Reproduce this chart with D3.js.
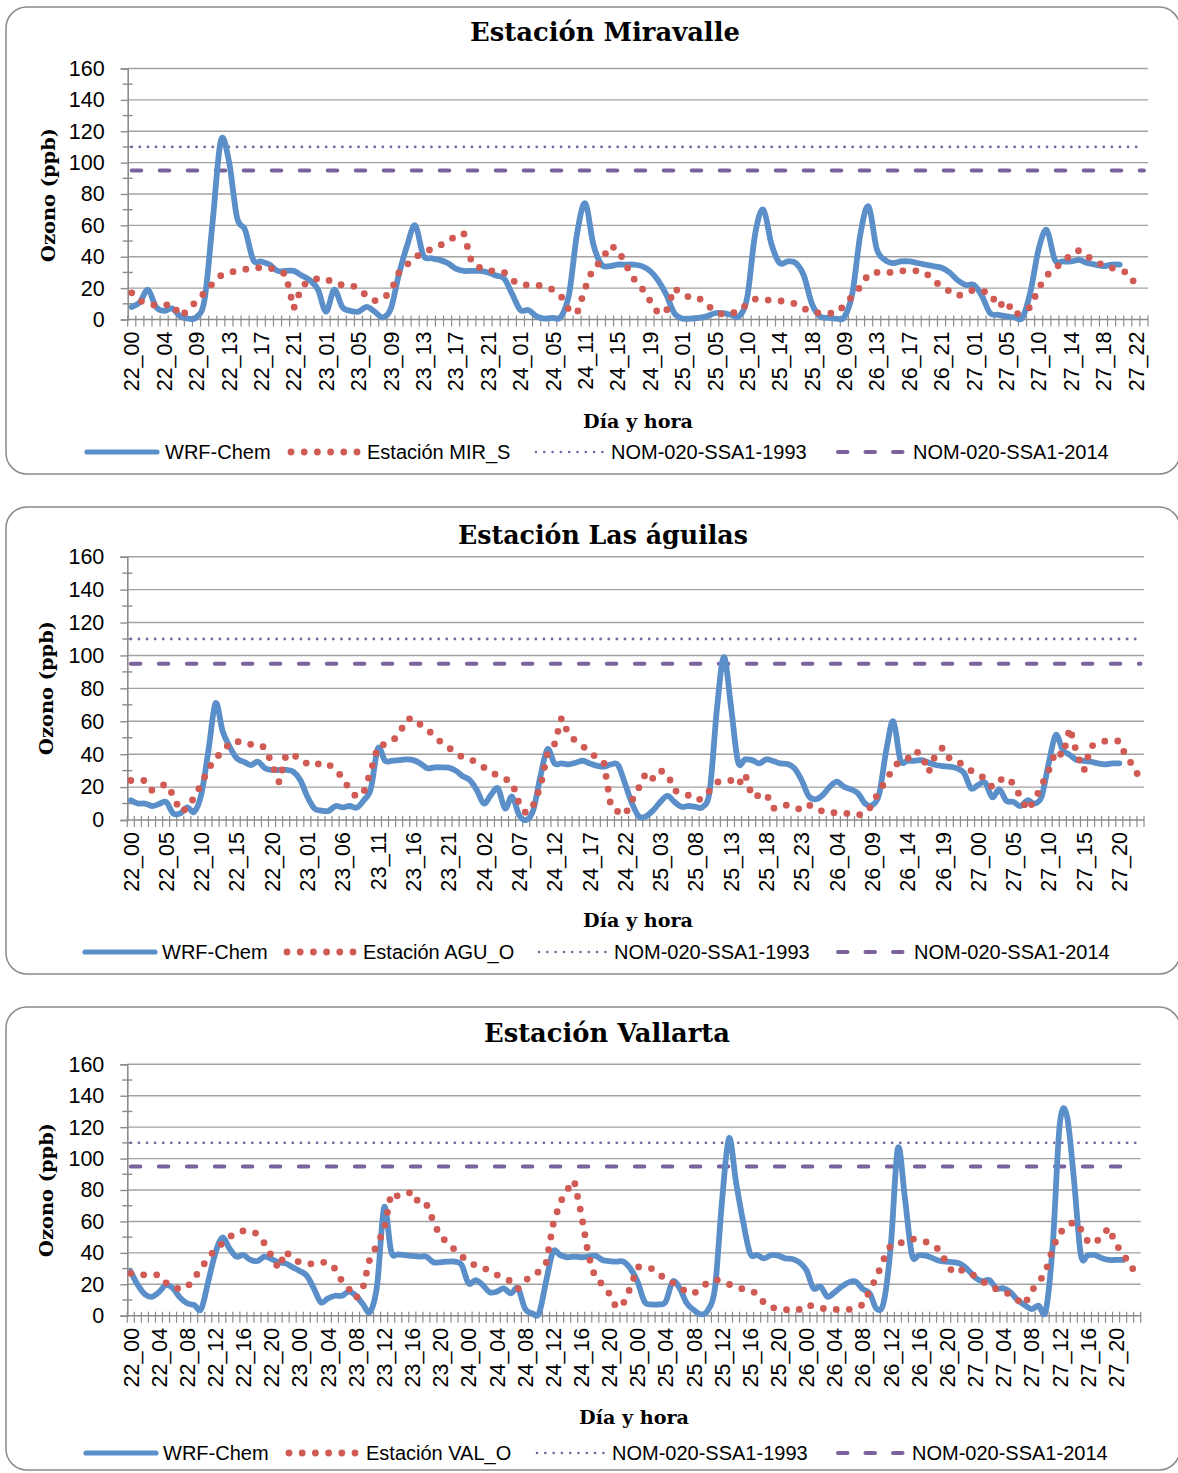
<!DOCTYPE html>
<html><head><meta charset="utf-8">
<script src="https://cdn.jsdelivr.net/npm/d3@7"></script>
<style>body{margin:0;background:#fff} svg{display:block}</style>
</head><body>
<svg id="chart" width="1178" height="1473"></svg>
<script>
// ---------- categories (day_hour) ----------
const catsMIR = ("22_00 22_01 22_02 22_03 22_04 22_05 22_07 22_08 22_09 22_10 22_11 22_12 22_13 22_14 22_15 22_16 22_17 22_18 22_19 22_20 22_21 22_22 22_23 " +
 "23_00 23_01 23_02 23_03 23_04 23_05 23_06 23_07 23_08 23_09 23_10 23_11 23_12 23_13 23_14 23_15 23_16 23_17 23_18 23_19 23_20 23_21 23_22 23_23 " +
 "24_00 24_01 24_02 24_03 24_04 24_05 24_06 24_09 24_10 24_11 24_12 24_13 24_14 24_15 24_16 24_17 24_18 24_19 24_20 24_23 " +
 "25_00 25_01 25_02 25_03 25_04 25_05 25_06 25_07 25_09 25_10 25_11 25_12 25_13 25_14 25_15 25_16 25_17 25_18 25_19 25_20 " +
 "26_08 26_09 26_10 26_11 26_12 26_13 26_14 26_15 26_16 26_17 26_18 26_19 26_20 26_21 26_22 26_23 " +
 "27_00 27_01 27_02 27_03 27_04 27_05 27_06 27_08 27_09 27_10 27_11 27_12 27_13 27_14 27_15 27_16 27_17 27_18 27_19 27_20 27_21 27_22 27_23").split(" ");
const catsFull = ("22_00 22_01 22_02 22_03 22_04 22_05 22_06 22_07 22_08 22_09 22_10 22_11 22_12 22_13 22_14 22_15 22_16 22_17 22_18 22_19 22_20 22_21 22_22 22_23 " +
 "23_00 23_01 23_02 23_03 23_04 23_05 23_06 23_07 23_08 23_09 23_10 23_11 23_12 23_13 23_14 23_15 23_16 23_17 23_18 23_19 23_20 23_21 23_22 23_23 " +
 "24_00 24_01 24_02 24_03 24_04 24_05 24_06 24_07 24_08 24_09 24_10 24_11 24_12 24_13 24_14 24_15 24_16 24_17 24_18 24_19 24_20 24_21 24_22 24_23 " +
 "25_00 25_01 25_02 25_03 25_04 25_05 25_06 25_07 25_08 25_09 25_10 25_11 25_12 25_13 25_14 25_15 25_16 25_17 25_18 25_19 25_20 25_21 25_22 25_23 " +
 "26_00 26_01 26_02 26_03 26_04 26_05 26_06 26_07 26_08 26_09 26_10 26_11 26_12 26_13 26_14 26_15 26_16 26_17 26_18 26_19 26_20 26_21 26_22 26_23 " +
 "27_00 27_01 27_02 27_03 27_04 27_05 27_06 27_07 27_08 27_09 27_10 27_11 27_12 27_13 27_14 27_15 27_16 27_17 27_18 27_19 27_20 27_21 27_22 27_23").split(" ");

const yTickValues = [0, 20, 40, 60, 80, 100, 120, 140, 160];
const nom1993 = 110;
const nom2014 = 95;
const seriesNames = ["WRF-Chem", "NOM-020-SSA1-1993", "NOM-020-SSA1-2014"];

// ---------- Estación Miravalle ----------
const wrfMIR = [8, 11, 19, 8, 5.5, 7, 2, 0.5, 1.5, 13,
 63, 114, 101, 65, 57, 38, 37, 35, 31, 31,
 31, 28, 25, 19, 5, 19, 8, 5.5, 5, 8,
 5, 1.3, 7, 29, 47, 60, 41, 39, 38, 36,
 32.5, 31, 31, 31, 30, 28, 26, 16, 6, 6,
 2, 0.6, 1, 1.7, 16, 55, 74, 48, 35, 34,
 35, 35, 35, 34, 31, 25, 16, 4, 0.6, 0.6,
 1, 2, 4, 4, 3, 2, 14, 55, 70, 48,
 36, 37, 36, 28, 10, 2, 1, 0.6, 1.5, 17,
 55, 72, 45, 38, 36, 37, 37, 36, 35, 34,
 33, 30, 25, 22, 22, 15, 4, 3, 2, 1.3,
 1.3, 18, 45, 57, 38, 37, 37, 38, 36, 35,
 34, 35, 35, null, null, null];
const obsMIR = [17, 12, 10, 9, 9, 10, 2, 6, 12, 17,
 23, 28, 30, 31, 32, 33, 33, 33, 31, 29,
 7, 21, 25, 26, 26, 23, 22, 22, 20, 15,
 12, 13, 18, 30, 35, 40, 42, 45, 47, 50,
 53, 55, 36, 33, 31, 31, 30, 25, 22, 22,
 22, 21, 19, 15, 6, 4, 20, 33, 37, 47,
 45, 35, 26, 20, 12, 4, 5, 20, 16, 14,
 14, 9, 6, 3, 4, 5, 10, 13, 13, 12,
 12, 11, 10, 7, 5, 4, 4, 4, 9, 15,
 21, 29, 30, 30, 30, 31, 31, 31, 30, 25,
 21, 18, 15, 17, 19, 18, 17, 8, 12, 3,
 5, 8, 20, 28, 33, 36, 42, 44, 40, 38,
 34, 33, 31, 30, 22, null];

// ---------- Estación Las águilas ----------
const wrfAGU = [12, 10, 10, 8.5, 9.7, 11, 4, 4, 7.7, 5,
 16, 42.5, 71, 54, 44.5, 37.5, 35.4, 33.4, 35.4, 31.4,
 30.4, 30.4, 30.4, 29.4, 24.3, 14.2, 7, 5.7, 5.5, 8.5,
 7.7, 8.5, 7.5, 12, 19.2, 43.5, 36, 36, 36.4, 36.8,
 36.4, 34.4, 31.4, 32, 32, 31.8, 30, 26.7, 24.3, 18.2,
 10, 15.2, 19.2, 7, 14.2, 3, 0, 6, 26.3, 43,
 34.4, 34.4, 33.8, 34.8, 36, 34.4, 33, 32.4, 33.8, 33.4,
 22, 10, 2, 2.4, 6, 11, 14.6, 11, 8, 8.5,
 8, 8, 18, 67, 99, 69, 35.4, 36.8, 36.4, 34.4,
 36.8, 35.8, 34.4, 34, 31.4, 24.3, 14.6, 12.6, 15.2, 20.2,
 23.3, 20.2, 18.6, 16.2, 10, 9, 16, 42.5, 60, 36.4,
 36, 36, 36.4, 34.8, 33.4, 32.8, 32.4, 31.4, 28.7, 19.2,
 21.3, 22.7, 13.8, 18.6, 11.7, 11, 8.5, 12, 10, 14.2,
 34.4, 51.6, 42.5, 39.5, 36.4, 36, 35.4, 34.4, 33.8, 34.4,
 34.4, null, null, null];
const obsAGU = [24, 24, 24, 18, 20, 22, 15, 5, 7, 14,
 22, 31, 38, 41, 47, 48, 46, 46, 46, 44,
 34, 23, 40, 39, 38, 34, 33, 35, 34, 30,
 26, 18, 14, 17, 30, 45, 46, 48, 52, 61,
 62, 58, 55, 51, 47, 44, 41, 38, 37, 35,
 32, 29, 27, 25, 23, 10, 4, 9, 20, 40,
 46, 62, 52, 48, 45, 41, 38, 35, 8, 5,
 3, 12, 20, 29, 25, 30, 28, 18, 16, 15,
 12, 13, 18, 23, 24, 24, 21, 28, 14, 15,
 16, 7, 9, 9, 8, 6, 9, 8, 5, 5,
 4, 4, 4, 3, 4, 9, 18, 24, 32, 36,
 37, 42, 40, 29, 40, 44, 37, 36, 33, 30,
 28, 25, 20, 24, 26, 22, 14, 6, 12, 21,
 30, 42, 39, 56, 40, 30, 45, 46, 48, 48,
 48, 38, 33, 24];

// ---------- Estación Vallarta ----------
const wrfVAL = [28, 19.5, 13.6, 12, 15, 19.5, 17.4, 11.5, 7.9, 6.8,
 4.2, 21.7, 39.7, 49.7, 42.9, 37.6, 38.6, 35.5, 34.8, 37.6,
 36.1, 34, 33.3, 30.8, 28.5, 25.5, 17.4, 8.5, 11, 12.7,
 12.7, 15.3, 12.7, 7.2, 2.5, 19.5, 69, 40.8, 39, 38.6,
 38, 37.6, 37.6, 34, 34, 34.4, 34.4, 32.3, 20.6, 22.7,
 19.5, 14.9, 15.3, 17.4, 14.2, 17.4, 4.7, 1.5, 1.5, 21.7,
 40.8, 38.6, 37.2, 37.6, 37.2, 37.6, 38.2, 35.5, 34.8, 34.4,
 34.4, 30, 21.7, 8.9, 7.2, 7.2, 8.9, 21.7, 17.4, 7.9,
 3.6, 0.8, 3.6, 17.4, 72.6, 113, 85, 60, 39.7, 38.6,
 36.5, 38.6, 38.2, 36.5, 36.1, 34, 29, 17.4, 18.5, 12.1,
 14.9, 18.5, 21.2, 21.7, 17, 14.2, 4.2, 8.9, 45, 106.6,
 74.7, 38.6, 38.6, 38.2, 36.5, 34.8, 34.4, 34, 32.7, 29,
 24.2, 22, 22.7, 17.4, 17.4, 14.9, 10, 6.8, 4.2, 6.4,
 3, 45, 122, 127.5, 87.5, 38.6, 38.6, 38.6, 36.5, 35.5,
 35.5, 35.5, null, null];
const obsVAL = [27, 26, 26, 26, 26, 21, 18, 17, 18, 24,
 30, 37, 42, 46, 50, 53, 54, 54, 52, 46,
 38, 30, 41, 36, 34, 33, 33, 34, 34, 30,
 22, 17, 11, 18, 37, 45, 55, 78, 76, 77,
 79, 71, 71, 60, 50, 47, 42, 38, 34, 32,
 31, 28, 26, 24, 22, 17, 22, 26, 28, 33,
 58, 72, 80, 86, 65, 39, 24, 20, 14, 5,
 8, 18, 31, 31, 30, 26, 24, 21, 18, 15,
 14, 18, 21, 23, 22, 20, 18, 17, 16, 14,
 8, 5, 5, 4, 3, 4, 7, 6, 5, 4,
 4, 4, 4, 5, 7, 16, 25, 36, 45, 46,
 47, 49, 48, 47, 44, 42, 32, 27, 29, 28,
 25, 22, 19, 17, 16, 13, 10, 7, 16, 21,
 28, 43, 53, 56, 60, 55, 47, 46, 51, 56,
 45, 40, 31, 28];

// ---------- layout / options ----------
const panels = [
  { title: "Estación Miravalle", station: "Estación MIR_S", cats: catsMIR, wrf: wrfMIR, obs: obsMIR, every: 4,
    box: [6, 7, 1174, 467], plot: { l: 127.7, r: 1148, t: 68.5, b: 319.5 },
    titleX: 605, titleY: 41, titleW: 270, yTitle: [48, 195], xTitle: [638, 427.5, 110],
    legY: 452, leg: { wrf: [87, 157, 165], obs: [291, 357, 367], n93: [536, 603, 611], n14: [838, 905, 913] } },
  { title: "Estación Las águilas", station: "Estación AGU_O", cats: catsFull, wrf: wrfAGU, obs: obsAGU, every: 5,
    box: [6, 507, 1174, 467], plot: { l: 127.3, r: 1144, t: 556.7, b: 820 },
    titleX: 603, titleY: 544, titleW: 290, yTitle: [46, 688], xTitle: [638, 926.5, 110],
    legY: 952, leg: { wrf: [85, 155, 162], obs: [287, 353, 363], n93: [539, 606, 614], n14: [838, 905, 914] } },
  { title: "Estación Vallarta", station: "Estación VAL_O", cats: catsFull, wrf: wrfVAL, obs: obsVAL, every: 4,
    box: [6, 1007, 1174, 463], plot: { l: 127.3, r: 1140.7, t: 1064.3, b: 1315.7 },
    titleX: 607, titleY: 1042, titleW: 246, yTitle: [46, 1190], xTitle: [634, 1423.5, 110],
    legY: 1453, leg: { wrf: [86, 156, 163], obs: [289, 355, 366], n93: [537, 604, 612], n14: [838, 905, 912] } }
];

const C = { wrf: "#5B8FC9", obs: "#CF5B54", nom: "#7A639C", grid: "#A2A2A2", axis: "#8C8C8C", box: "#8A8A8A" };
const SANS = "'Liberation Sans', Arial, sans-serif";
const SERIF = "'DejaVu Serif', serif";

const svg = d3.select("#chart");
svg.append("rect").attr("width", 1178).attr("height", 1473).attr("fill", "#fff");

function fitWidth(sel, w) {
  const L = sel.node().getComputedTextLength();
  if (L > 0) sel.attr("font-size", parseFloat(sel.attr("font-size")) * w / L);
}

panels.forEach(p => {
  const g = svg.append("g");
  const { l, r, t, b } = p.plot;
  g.append("rect").attr("x", p.box[0]).attr("y", p.box[1]).attr("width", p.box[2]).attr("height", p.box[3])
    .attr("rx", 21).attr("ry", 21).attr("fill", "none").attr("stroke", C.box).attr("stroke-width", 1.5);

  const x = d3.scaleBand().domain(p.cats).range([l, r]).paddingInner(0).paddingOuter(0);
  const y = d3.scaleLinear().domain([0, 160]).range([b, t]);
  const cx = c => x(c) + x.bandwidth() / 2;

  // gridlines
  g.append("g").selectAll("line").data(yTickValues.filter(v => v > 0)).join("line")
    .attr("x1", l).attr("x2", r).attr("y1", d => y(d)).attr("y2", d => y(d))
    .attr("stroke", C.grid).attr("stroke-width", 1.4);

  // y axis
  const ya = g.append("g").attr("transform", `translate(${l},0)`)
    .call(d3.axisLeft(y).tickValues(yTickValues).tickSize(7).tickPadding(16).tickFormat(d3.format("d")));
  ya.select(".domain").attr("stroke", C.axis).attr("stroke-width", 1.6);
  ya.selectAll(".tick line").attr("stroke", C.axis).attr("stroke-width", 1.4);
  ya.selectAll("text").attr("font-family", SANS).attr("font-size", 21.5).attr("fill", "#000");
  // minor y ticks
  g.append("g").selectAll("line").data(d3.range(10, 160, 20)).join("line")
    .attr("x1", l - 5).attr("x2", l + 5).attr("y1", d => y(d)).attr("y2", d => y(d))
    .attr("stroke", C.axis).attr("stroke-width", 1.4);

  // x axis line and category ticks
  g.append("line").attr("x1", l).attr("x2", r).attr("y1", b).attr("y2", b).attr("stroke", C.axis).attr("stroke-width", 1.6);
  const bounds = p.cats.map(c => x(c)).concat([r]);
  g.append("g").selectAll("line").data(bounds).join("line")
    .attr("x1", d => d).attr("x2", d => d).attr("y1", b - 4).attr("y2", b + 7)
    .attr("stroke", C.axis).attr("stroke-width", 1.2);
  const xa = g.append("g").attr("transform", `translate(0,${b})`)
    .call(d3.axisBottom(x).tickValues(p.cats.filter((c, i) => i % p.every === 0)).tickSize(0));
  xa.select(".domain").remove();
  xa.selectAll("text").attr("font-family", SANS).attr("font-size", 21.5).attr("fill", "#000")
    .attr("transform", "rotate(-90)").attr("x", -12).attr("y", 0).attr("dy", "0.36em").style("text-anchor", "end");

  // reference lines
  const first = cx(p.cats[0]), last = cx(p.cats[p.cats.length - 1]);
  g.append("line").attr("x1", first).attr("x2", last).attr("y1", y(nom1993)).attr("y2", y(nom1993))
    .attr("stroke", C.nom).attr("stroke-width", 2.8).attr("stroke-linecap", "round").attr("stroke-dasharray", "0 8.1");
  g.append("line").attr("x1", first).attr("x2", last).attr("y1", y(nom2014)).attr("y2", y(nom2014))
    .attr("stroke", C.nom).attr("stroke-width", 4).attr("stroke-linecap", "round").attr("stroke-dasharray", "9.5 18.5");

  // WRF-Chem smoothed line
  const wrfLine = d3.line().defined(d => d[1] != null).x(d => cx(d[0])).y(d => y(d[1])).curve(d3.curveCardinal.tension(0));
  g.append("path").datum(p.cats.map((c, i) => [c, p.wrf[i]])).attr("d", wrfLine)
    .attr("fill", "none").attr("stroke", C.wrf).attr("stroke-width", 5.8).attr("stroke-linejoin", "round").attr("stroke-linecap", "round");

  // observed station: round-dot line
  const obsLine = d3.line().defined(d => d[1] != null).x(d => cx(d[0])).y(d => y(d[1]));
  g.append("path").datum(p.cats.map((c, i) => [c, p.obs[i]])).attr("d", obsLine)
    .attr("fill", "none").attr("stroke", C.obs).attr("stroke-width", 6.8).attr("stroke-linecap", "round").attr("stroke-dasharray", "0 13");

  // titles
  const tt = g.append("text").attr("x", p.titleX).attr("y", p.titleY).attr("text-anchor", "middle")
    .attr("font-family", SERIF).attr("font-weight", "bold").attr("font-size", 25).attr("fill", "#000").text(p.title);
  fitWidth(tt, p.titleW);
  const yt = g.append("text").attr("transform", `translate(${p.yTitle[0]},${p.yTitle[1]}) rotate(-90)`)
    .attr("text-anchor", "middle").attr("dominant-baseline", "central")
    .attr("font-family", SERIF).attr("font-weight", "bold").attr("font-size", 19).attr("fill", "#000").text("Ozono (ppb)");
  fitWidth(yt, 134);
  const xt = g.append("text").attr("x", p.xTitle[0]).attr("y", p.xTitle[1]).attr("text-anchor", "middle")
    .attr("font-family", SERIF).attr("font-weight", "bold").attr("font-size", 19).attr("fill", "#000").text("Día y hora");
  fitWidth(xt, p.xTitle[2]);

  // legend
  const ly = p.legY, L = p.leg;
  const lg = g.append("g");
  lg.append("line").attr("x1", L.wrf[0]).attr("x2", L.wrf[1]).attr("y1", ly).attr("y2", ly)
    .attr("stroke", C.wrf).attr("stroke-width", 5.2).attr("stroke-linecap", "round");
  lg.append("path").attr("d", `M${L.obs[0]},${ly}H${L.obs[1] + 0.5}`)
    .attr("stroke", C.obs).attr("stroke-width", 6.8).attr("stroke-linecap", "round").attr("stroke-dasharray", "0 13.2");
  lg.append("line").attr("x1", L.n93[0]).attr("x2", L.n93[1]).attr("y1", ly).attr("y2", ly)
    .attr("stroke", C.nom).attr("stroke-width", 2.6).attr("stroke-linecap", "round").attr("stroke-dasharray", "0 8.3");
  lg.append("line").attr("x1", L.n14[0]).attr("x2", L.n14[1]).attr("y1", ly).attr("y2", ly)
    .attr("stroke", C.nom).attr("stroke-width", 4).attr("stroke-linecap", "round").attr("stroke-dasharray", "9.5 18");
  const texts = [[L.wrf[2], seriesNames[0]], [L.obs[2], p.station], [L.n93[2], seriesNames[1]], [L.n14[2], seriesNames[2]]];
  lg.selectAll("text").data(texts).join("text").attr("x", d => d[0]).attr("y", ly + 7)
    .attr("font-family", SANS).attr("font-size", 20).attr("fill", "#000").text(d => d[1]);
});
</script>
</body></html>
